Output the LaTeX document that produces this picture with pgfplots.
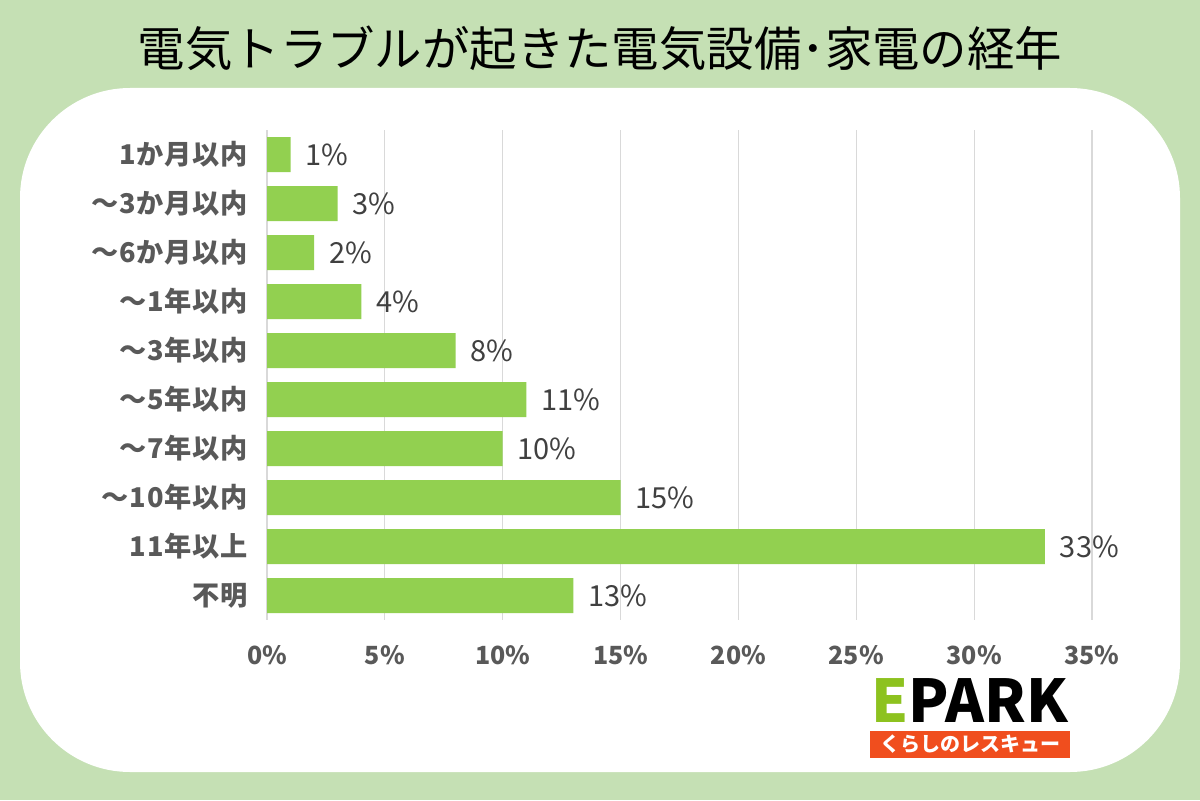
\documentclass[border=0pt]{standalone}
\usepackage{fontspec}
\setmainfont{Noto Sans CJK JP}
\newfontfamily\spaced[LetterSpace=3]{Noto Sans CJK JP}
\usepackage{pgfplots}
\pgfplotsset{compat=1.18}
\definecolor{bggreen}{HTML}{C5E0B4}
\definecolor{bargreen}{HTML}{92D050}
\definecolor{ticktxt}{HTML}{595959}
\definecolor{datatxt}{HTML}{404040}
\definecolor{gridc}{HTML}{D9D9D9}
\definecolor{eparkgreen}{HTML}{8DC21F}
\definecolor{eparkred}{HTML}{F04E1E}
\begin{document}
\begin{tikzpicture}
\useasboundingbox (0,0) rectangle (600pt,400pt);
\fill[bggreen] (0,0) rectangle (600pt,400pt);
\fill[white, rounded corners=55pt] (10pt,14pt) rectangle (590pt,356pt);
\node[font=\fontsize{23.7pt}{26pt}\selectfont, text=black] at (300pt,376pt) {電気トラブルが起きた電気設備･家電の経年};
\begin{axis}[
  at={(133.5pt,90pt)}, anchor=south west,
  scale only axis, width=412.5pt, height=245pt,
  xbar, bar width=17.5pt,
  xmin=0, xmax=35, ymin=0.5, ymax=10.5, y dir=reverse,
  axis line style={draw=none},
  /pgf/number format/assume math mode=true,
  xtick={0,5,...,35},
  xticklabels={0\%,5\%,10\%,15\%,20\%,25\%,30\%,35\%},
  ytick={1,...,10},
  yticklabels={1か月以内,～3か月以内,～6か月以内,～1年以内,～3年以内,～5年以内,～7年以内,～10年以内,11年以上,不明},
  major tick length=0pt,
  xmajorgrids, major grid style={gridc, line width=0.6pt},
  ymajorgrids=false,
  x tick label style={font=\fontsize{12.5pt}{14pt}\selectfont\bfseries, text=ticktxt, yshift=-9pt},
  y tick label style={font=\spaced\fontsize{13.6pt}{15pt}\selectfont\bfseries, text=ticktxt, xshift=-6pt},
  nodes near coords={\pgfmathprintnumber{\pgfplotspointmeta}\%},
  nodes near coords style={font=\fontsize{14.5pt}{16pt}\selectfont, text=datatxt, anchor=west, xshift=4pt},
  point meta=x,
]
\addplot[fill=bargreen, draw=none] coordinates {
(1,1) (3,2) (2,3) (4,4) (8,5) (11,6) (10,7) (15,8) (33,9) (13,10)
};
\end{axis}
\node[font=\fontsize{29.5pt}{32pt}\selectfont\bfseries, inner sep=0pt] at (485pt,49.5pt) {\textcolor{eparkgreen}{E}PARK};
\fill[eparkred] (435pt,21pt) rectangle (535pt,34.5pt);
\node[font=\fontsize{10pt}{12pt}\selectfont\bfseries, text=white] at (485pt,27.75pt) {くらしのレスキュー};
\end{tikzpicture}
\end{document}
